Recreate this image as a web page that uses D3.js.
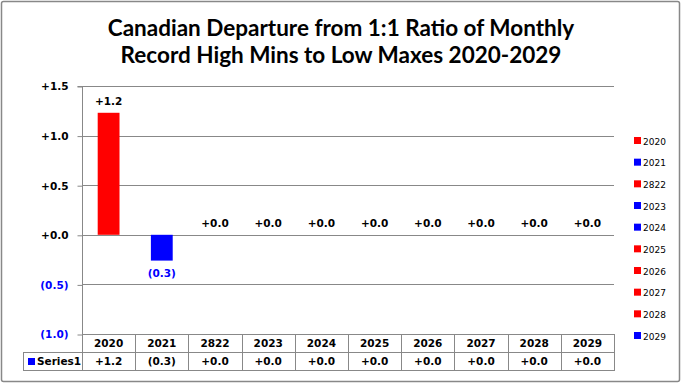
<!DOCTYPE html>
<html><head><meta charset="utf-8">
<script src="https://cdn.jsdelivr.net/npm/d3@7"></script>
<style>body{margin:0;background:#fff}svg{display:block}</style>
</head><body><svg id="c" width="681" height="383"></svg>
<script>
const categories = ["2020","2021","2822","2023","2024","2025","2026","2027","2028","2029"];
const values = [1.23,-0.26,0,0,0,0,0,0,0,0];
const yTicks = [1.5,1.0,0.5,0,-0.5,-1.0];
const legendLabels = ["2020","2021","2822","2023","2024","2025","2026","2027","2028","2029"];
const legendColors = ["#FF0000","#0000FF","#FF0000","#0000FF","#0000FF","#FF0000","#FF0000","#FF0000","#FF0000","#0000FF"];
const seriesName = "Series1";
const titleLines = ["Canadian Departure from 1:1 Ratio of Monthly","Record High Mins to Low Maxes 2020-2029"];

(function(){
const svg = d3.select("#c");
const W=681,H=383;
const pLeft=82,pRight=614,pTop=86,pBottom=334;
const grey="#888";
const tf = "'DejaVu Sans', sans-serif";

svg.append("rect").attr("x",1.5).attr("y",1.5).attr("width",W-3).attr("height",H-3)
  .attr("fill","#fff").attr("stroke",grey).attr("stroke-width",1.5).attr("rx",2);

svg.selectAll("text.title").data(titleLines).enter().append("text")
  .attr("x",341).attr("y",(d,i)=>36+i*27).attr("text-anchor","middle")
  .attr("font-family","Lato, sans-serif").attr("font-weight","bold").attr("font-size",22.5)
  .attr("fill","#000").text(d=>d);

const x = d3.scaleBand().domain(categories).range([pLeft,pRight]).paddingInner(0.59).paddingOuter(0.295);
const xCol = d3.scaleBand().domain(categories).range([pLeft,pRight]);
const y = d3.scaleLinear().domain([-1,1.5]).range([pBottom,pTop]);

const fmt = v => v<0 ? "("+d3.format(".1f")(-v)+")" : "+"+d3.format(".1f")(v);

svg.append("g").selectAll("line").data(yTicks.filter(t=>t!==-1)).enter().append("line")
  .attr("x1",pLeft).attr("x2",pRight).attr("y1",d=>Math.round(y(d))+0.5).attr("y2",d=>Math.round(y(d))+0.5)
  .attr("stroke",grey).attr("stroke-width",1);

const yAxis = d3.axisLeft(y).tickValues(yTicks).tickSize(5).tickPadding(9).tickFormat(fmt);
const gy = svg.append("g").attr("transform",`translate(${pLeft+0.5},0.5)`).call(yAxis);
gy.select(".domain").attr("stroke",grey).attr("d",`M-5,${y(1.5)}H0V${y(-1)}`);
gy.selectAll(".tick line").attr("stroke",grey);
gy.selectAll(".tick text").attr("font-family",tf).attr("font-weight","bold").attr("font-size",10.5)
  .attr("fill",d=>d<0?"#0000FF":"#000");

svg.append("g").selectAll("rect").data(values).enter().append("rect")
  .attr("x",(d,i)=>x(categories[i])).attr("width",x.bandwidth())
  .attr("y",d=>y(Math.max(0,d))).attr("height",d=>Math.abs(y(d)-y(0)))
  .attr("fill",(d,i)=>legendColors[i]);

svg.append("g").selectAll("text").data(values).enter().append("text")
  .attr("x",(d,i)=>xCol(categories[i])+xCol.bandwidth()/2)
  .attr("y",d=>d<0? y(d)+16 : y(d)-8)
  .attr("text-anchor","middle").attr("font-family",tf).attr("font-weight","bold").attr("font-size",10.5)
  .attr("fill",d=>d<0?"#0000FF":"#000").text(fmt);

const r1=pBottom, r2=352, r3=370, tl=23;
const tg = svg.append("g").attr("stroke",grey).attr("stroke-width",1).attr("fill","none");
tg.append("line").attr("x1",pLeft).attr("x2",pRight).attr("y1",r1+0.5).attr("y2",r1+0.5);
tg.append("line").attr("x1",tl).attr("x2",pRight).attr("y1",r2+0.5).attr("y2",r2+0.5);
tg.append("line").attr("x1",tl).attr("x2",pRight).attr("y1",r3+0.5).attr("y2",r3+0.5);
tg.append("line").attr("x1",tl+0.5).attr("x2",tl+0.5).attr("y1",r2).attr("y2",r3+1);
const edges = categories.map(c=>xCol(c)).concat([pRight]);
tg.selectAll("line.v").data(edges).enter().append("line")
  .attr("x1",d=>Math.round(d)+0.5).attr("x2",d=>Math.round(d)+0.5).attr("y1",r1).attr("y2",r3+1);

svg.append("g").selectAll("text").data(categories).enter().append("text")
  .attr("x",d=>xCol(d)+xCol.bandwidth()/2).attr("y",r1+13)
  .attr("text-anchor","middle").attr("font-family",tf).attr("font-weight","bold").attr("font-size",10.5)
  .attr("fill","#000").text(d=>d);
svg.append("g").selectAll("text").data(values).enter().append("text")
  .attr("x",(d,i)=>xCol(categories[i])+xCol.bandwidth()/2).attr("y",r2+13)
  .attr("text-anchor","middle").attr("font-family",tf).attr("font-weight","bold").attr("font-size",10.5)
  .attr("fill","#000").text(fmt);
svg.append("rect").attr("x",28).attr("y",r2+6).attr("width",7).attr("height",7).attr("fill","#0000FF");
svg.append("text").attr("x",37).attr("y",r2+13).attr("font-family",tf).attr("font-weight","bold")
  .attr("font-size",10.5).attr("fill","#000").text(seriesName);

const lg = svg.append("g");
const ly = d3.scalePoint().domain(legendLabels).range([141,336]);
lg.selectAll("rect").data(legendLabels).enter().append("rect")
  .attr("x",634).attr("y",d=>ly(d)-4).attr("width",7).attr("height",7)
  .attr("fill",(d,i)=>legendColors[i]);
lg.selectAll("text").data(legendLabels).enter().append("text")
  .attr("x",643).attr("y",d=>ly(d)+3.5).attr("font-family",tf).attr("font-size",9)
  .attr("fill","#000").text(d=>d);
})();
</script></body></html>
